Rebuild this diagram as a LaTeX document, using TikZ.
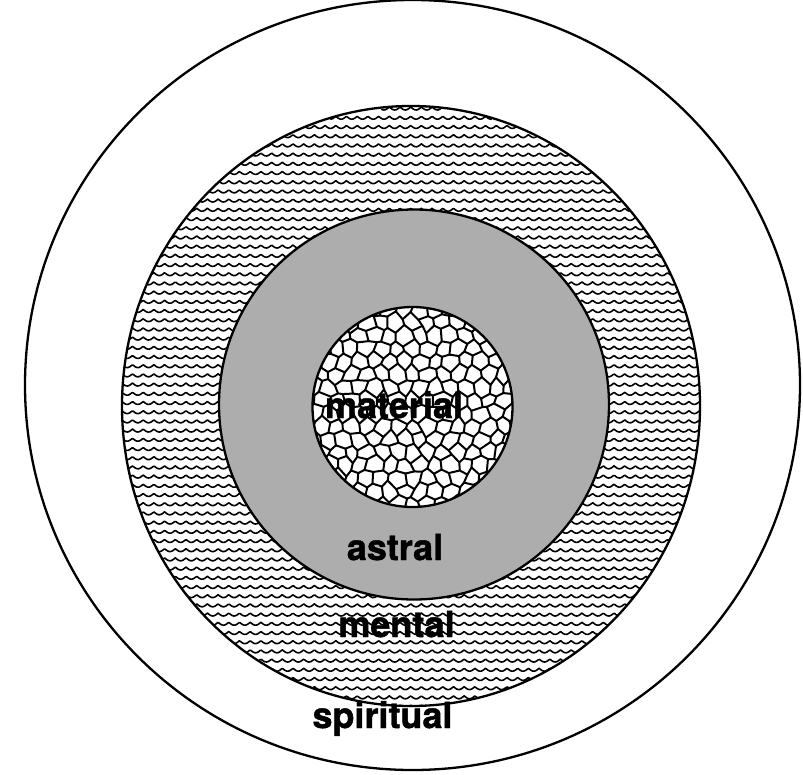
\documentclass[tikz,border=0pt]{standalone}
\usepackage{fontspec}
\setmainfont{TeX Gyre Heros}[BoldFeatures={FakeBold=1.2}]
\begin{document}
\begin{tikzpicture}[x=1pt,y=-1pt,
  ring/.style={line width=2.3pt},
  wave/.style={line width=1.6pt, line join=round},
  cell/.style={line width=2pt, line join=round, line cap=round},
  lab/.style={font=\fontsize{36}{40}\selectfont\bfseries, inner sep=0pt, anchor=base}]
\useasboundingbox (0,0) rectangle (803,774);
% spiritual (outer)
\draw[ring] (412.5,385) ellipse [x radius=387.5, y radius=385];
% mental ring with scallop rows
\begin{scope}
  \clip (411,406) ellipse [x radius=289, y radius=300];
  \foreach \k in {0,...,65}{
    \pgfmathsetmacro\yy{107+\k*9.2}
    \pgfmathsetmacro\tq{(\yy-406)/300}
    \pgfmathsetmacro\hw{289*sqrt(max(0,1-\tq*\tq))+6}
    \pgfmathsetmacro\xa{411-\hw}
    \pgfmathsetmacro\xb{411+\hw}
    \pgfmathtruncatemacro\ns{max(3,2*\hw/1.3)}
    \draw[wave] plot[domain=\xa:\xb, samples=\ns] (\x,{\yy+3*abs(sin(16.8224*(\x-400)))});
  }
\end{scope}
\draw[ring] (411,406) ellipse [x radius=289, y radius=300];
% astral
\fill[black!32] (414,404.5) circle [radius=195];
\draw[ring] (414,404.5) circle [radius=195];
% material cells
\begin{scope}
  \clip (412.5,407) circle [radius=100];
  \fill[white] (412.5,407) circle [radius=100];
  \pgfmathsetseed{11}
  \foreach \i in {-15,...,15}{
    \foreach \j in {-9,...,9}{
      \pgfmathsetmacro\oo{2.2-4.4*mod(\i+\j+40,2)}
      \pgfmathsetmacro\dx{2.5*rand}
      \pgfmathsetmacro\dy{2.5*rand}
      \coordinate (v\i q\j) at ({412.5+\i*7.6+\dx},{407+\j*13+\oo+\dy});
    }
  }
  \foreach \j in {-9,...,9}{
    \draw[cell] (v-15q\j) \foreach \i in {-14,...,15}{ -- (v\i q\j) };
  }
  \foreach \i in {-15,...,15}{
    \foreach \j in {-9,...,8}{
      \pgfmathtruncatemacro\pp{mod(\i+\j+40,2)}
      \pgfmathtruncatemacro\jn{\j+1}
      \ifnum\pp=0 \draw[cell] (v\i q\j) -- (v\i q\jn); \fi
    }
  }
\end{scope}
\draw[ring] (412.5,407) circle [radius=100];
% labels
\node[lab] (material) at (394,418) {material};
\node[lab] (astral) at (395,560) {astral};
\node[lab] (mental) at (396.5,637) {mental};
\node[lab] (spiritual) at (382.5,728) {spiritual};
\end{tikzpicture}
\end{document}
